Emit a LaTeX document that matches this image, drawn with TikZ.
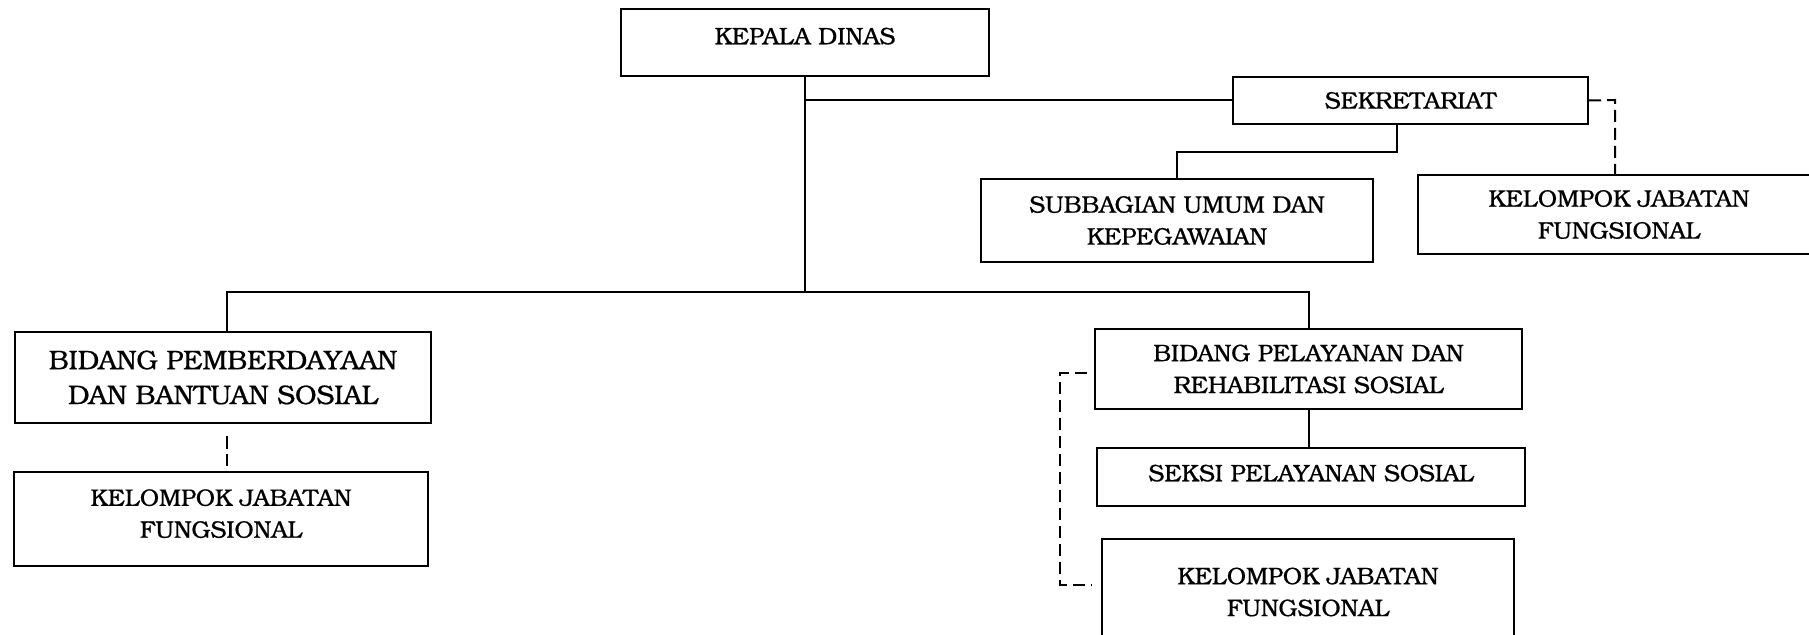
\documentclass[tikz,border=0pt]{standalone}
\usepackage{fontspec}
\setmainfont{texgyrebonum-regular.otf}[FakeBold=0.6]
\begin{document}
\begin{tikzpicture}[x=1bp,y=-1bp,
  box/.style={draw, line width=2bp, rectangle, inner sep=0pt, align=center,
    font=\fontsize{24}{32}\selectfont},
  bigbox/.style={box, font=\fontsize{27}{35}\selectfont},
  conn/.style={line width=2bp},
  dconn/.style={line width=2bp, dash pattern=on 12bp off 6bp}]
\useasboundingbox (0,0) rectangle (1809,635);
\fill[white] (0,0) rectangle (1809,635);
\clip (0,0) rectangle (1809,635);

\node[box, minimum width=368bp, minimum height=67bp, text depth=13bp] (kd) at (805,42.5) {KEPALA DINAS};
\node[box, minimum width=355bp, minimum height=47bp] (sek) at (1410.5,100.5) {SEKRETARIAT};
\node[box, minimum width=392bp, minimum height=83bp] (sub) at (1177,220.5) {SUBBAGIAN UMUM DAN\\KEPEGAWAIAN};
\node[box, minimum width=402bp, minimum height=79bp] (kjfa) at (1619,214.5) {KELOMPOK JABATAN\\FUNGSIONAL};
\node[bigbox, minimum width=416bp, minimum height=91bp] (bpa) at (223,377.5) {BIDANG PEMBERDAYAAN\\DAN BANTUAN SOSIAL};
\node[box, minimum width=414bp, minimum height=94bp, text depth=11bp] (kjfb) at (221,519) {KELOMPOK JABATAN\\FUNGSIONAL};
\node[box, minimum width=427bp, minimum height=80bp] (bpb) at (1308.5,369) {BIDANG PELAYANAN DAN\\REHABILITASI SOSIAL};
\node[box, minimum width=428bp, minimum height=58bp, text depth=8bp] (sks) at (1311,477) {SEKSI PELAYANAN SOSIAL};
\node[box, minimum width=412bp, minimum height=106bp] (kjfc) at (1308,592) {KELOMPOK JABATAN\\FUNGSIONAL};

\coordinate (jk) at (805,292);
\coordinate (jl) at (227,292);
\coordinate (jr) at (1309,292);
\coordinate (s1) at (1397,152);
\coordinate (t1) at (1615,100);
\coordinate (r1) at (1060,373);
\coordinate (r2) at (1060,585);

\draw[conn] (kd.south) -- (jk);
\draw[conn] (kd.south |- sek.west) -- (sek.west);
\draw[conn] (bpa.north -| jl) -- (jl) -- (jr) -- (bpb.north -| jr);
\draw[conn] (sek.south -| s1) -- (s1) -- (s1 -| sub.north) -- (sub.north);
\draw[conn] (bpb.south) -- (bpb.south |- sks.north);

\draw[dconn] (sek.east) -- (t1) -- (t1 |- kjfa.north);
\draw[line width=2bp, dash pattern=on 0bp off 12bp on 13bp off 5bp on 12bp off 10bp]
  (bpa.south -| jl) -- (kjfb.north -| jl);
\draw[dconn] (r1 -| bpb.west) ++(-7,0) -- (r1) -- (r2) -- ++(32,0);
\end{tikzpicture}
\end{document}
